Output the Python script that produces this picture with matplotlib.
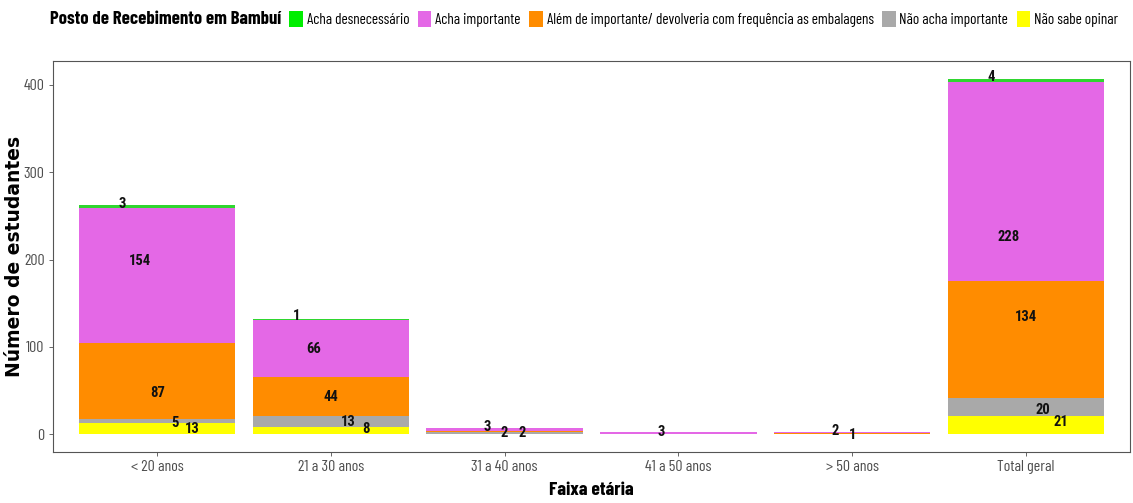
import matplotlib
matplotlib.use('Agg')
import matplotlib.pyplot as plt
from matplotlib.patches import Patch
import numpy as np

categories = ['< 20 anos', '21 a 30 anos', '31 a 40 anos', '41 a 50 anos', '> 50 anos', 'Total geral']
series_names = ['Acha desnecessário', 'Acha importante',
                'Além de importante/ devolveria com frequência as embalagens',
                'Não acha importante', 'Não sabe opinar']
acha_desnecessario = [3, 1, 0, 0, 0, 4]
acha_importante = [154, 66, 3, 3, 2, 228]
alem_importante = [87, 44, 2, 0, 1, 134]
nao_acha_importante = [5, 13, 2, 0, 0, 20]
nao_sabe_opinar = [13, 8, 0, 0, 0, 21]

# label heights (data units)
lab_desnecessario = [264, 135, 0, 0, 0, 409]
lab_importante = [198, 98, 8, 2, 4, 226]
lab_alem = [47, 43, 1, 0, -1, 134]
lab_nao_acha = [13, 14, 1, 0, 0, 28]
lab_nao_sabe = [6, 6, 0, 0, 0, 14]

colors = ['#2FD62F', '#E468E6', '#FF8C00', '#A9A9A9', '#FFFF00']
legend_colors = ['#00EE00', '#E468E6', '#FF8C00', '#A9A9A9', '#FFFF00']

narrow = ['Barlow Condensed', 'Archivo Narrow', 'Roboto Condensed', 'DejaVu Sans']
label_font = ['Roboto Condensed', 'Archivo Narrow', 'DejaVu Sans']

W, H = 1133, 503
fig = plt.figure(figsize=(W / 100, H / 100), dpi=100)
ax = fig.add_axes([53 / W, 1 - 452 / H, (1130 - 53) / W, (452 - 61) / H])

x = np.arange(len(categories))
series = [acha_desnecessario, acha_importante, alem_importante, nao_acha_importante, nao_sabe_opinar]
labs = [lab_desnecessario, lab_importante, lab_alem, lab_nao_acha, lab_nao_sabe]

bottom = np.zeros(len(categories))
for i in [4, 3, 2, 1, 0]:
    vals = np.array(series[i], dtype=float)
    ax.bar(x, vals, bottom=bottom, width=0.9, color=colors[i], linewidth=0)
    bottom += vals

offsets = [-0.2, -0.1, 0.0, 0.1, 0.2]
for i in range(5):
    for j in range(len(categories)):
        v = series[i][j]
        if v > 0:
            ax.text(x[j] + offsets[i], labs[i][j], str(v), ha='center', va='center',
                    fontsize=10.5, fontweight='bold', family=label_font, color='#111111')

ax.set_xlim(-0.6, len(categories) - 0.4)
total = max(bottom)
ax.set_ylim(-0.05 * total, total * 1.05)
ax.set_yticks([0, 100, 200, 300, 400])
ax.set_xticks(x)
ax.set_xticklabels(categories)
for lab in ax.get_xticklabels() + ax.get_yticklabels():
    lab.set_family(narrow)
    lab.set_fontsize(11.5)
    lab.set_color('#4D4D4D')
ax.tick_params(length=3, color='#4D4D4D', width=0.6, pad=3)
for s in ax.spines.values():
    s.set_color('#555555')
    s.set_linewidth(0.8)

ax.set_xlabel('Faixa etária', family=narrow, fontweight='bold', fontsize=14)
ax.xaxis.set_label_coords(0.5, (452 - 482) / 391)
ax.set_ylabel('Número de estudantes', family='DejaVu Sans', fontweight='bold', fontsize=13.5)
ax.yaxis.set_label_coords((24 - 53) / 1077, 0.5)

fig.text(50 / W, 1 - 19 / H, 'Posto de Recebimento em Bambuí', family=narrow,
         fontweight='bold', fontsize=13.5, va='center', ha='left')
leg_handles = [Patch(facecolor=c, edgecolor='none') for c in legend_colors]
fig.legend(leg_handles, series_names, ncol=5, loc='center left',
           bbox_to_anchor=(289 / W, 1 - 19 / H), frameon=False,
           handlelength=0.9, handleheight=1.3, handletextpad=0.25,
           columnspacing=0.55, borderaxespad=0, borderpad=0,
           prop={'family': narrow, 'size': 11})

fig.savefig('out.png', dpi=100)
